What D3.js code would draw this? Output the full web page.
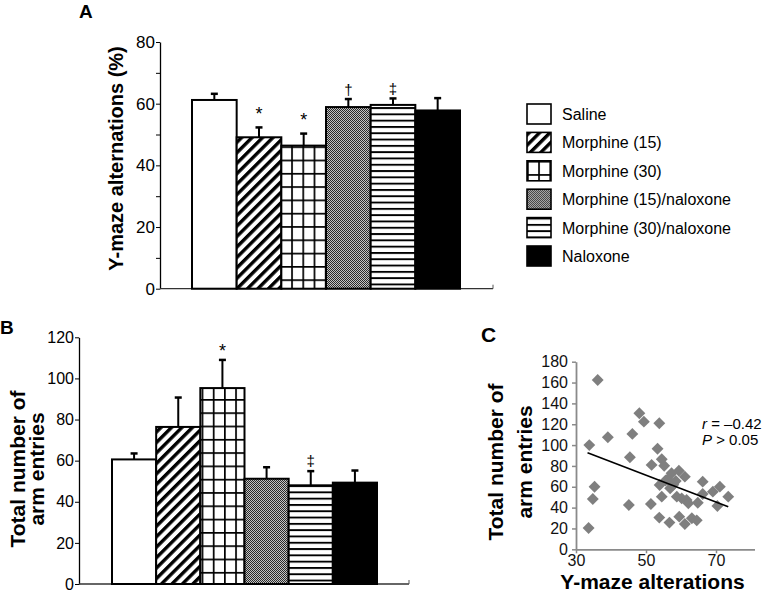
<!DOCTYPE html>
<html>
<head>
<meta charset="utf-8">
<script src="https://cdn.jsdelivr.net/npm/d3@7"></script>
<style>
  body { margin: 0; background: #fff; }
  svg { font-family: "Liberation Sans", Arial, sans-serif; }
</style>
</head>
<body>
<div id="vis"></div>
<script>
// groups (same order in A, B and legend)
var groups = ["Saline", "Morphine (15)", "Morphine (30)", "Morphine (15)/naloxone", "Morphine (30)/naloxone", "Naloxone"];

// A: Y-maze alternations (%)
var altMean = [61.2, 49.1, 46.4, 58.9, 59.6, 57.8];
var altErr = [2.0, 3.2, 3.9, 2.6, 2.1, 4.0];
var altMarks = ["", "*", "*", "\u2020", "\u2021", ""];
var altTicks = [0, 10, 20, 30, 40, 50, 60, 70, 80];

// B: total number of arm entries
var entMean = [60.6, 76.4, 95.3, 51.2, 48.0, 49.3];
var entErr = [2.9, 14.3, 13.7, 5.6, 6.9, 5.9];
var entMarks = ["", "", "*", "", "\u2021", ""];
var entTicks = [0, 20, 40, 60, 80, 100, 120];

// C: scatter, Y-maze alterations vs arm entries
var scatX = [36.2, 33.8, 39.1, 35.3, 34.8, 33.6, 46.1, 45.4, 45.1, 48.1, 49.4, 53.8, 53.3, 51.6, 51.4,
             54.5, 55.2, 53.9, 54.5, 53.8, 56.7, 57.3, 56.2, 58.5, 56.9, 58.8, 59.4, 61.1, 60.2, 61.6,
             62.1, 59.5, 61.1, 63.1, 64.5, 64.8, 66.2, 66.2, 69.1, 71.1, 70.4, 73.5, 57.8, 55.6];
var scatY = [162.5, 100, 107.5, 60, 48.3, 20.4, 110.7, 88.3, 42.5, 130.5, 122.5, 121, 96.5, 81, 43.5,
             86.4, 80.2, 61.7, 50.5, 30.4, 25.6, 73, 67.2, 65.5, 58.5, 50.5, 75.4, 69.7, 48.9, 47.3,
             44.1, 31.3, 24.3, 29.8, 27.8, 44.7, 64.9, 53.1, 55.3, 60.1, 41.6, 50.5, 62, 66];
var fitX = [33.3, 73.5];
var fitY = [92.7, 40.9];
var cxTicks = [30, 50, 70];
var cyTicks = [0, 20, 40, 60, 80, 100, 120, 140, 160, 180];

var barFills = ["#fff", "url(#diag)", "url(#grid)", "url(#dots)", "url(#hstripe)", "#000"];

var svg = d3.select('#vis')
    .append('svg')
    .attr('width', 768)
    .attr('height', 591);

// fill patterns
var defs = svg.append('defs');

var diag = defs.append('pattern')
    .attr('id', 'diag')
    .attr('patternUnits', 'userSpaceOnUse')
    .attr('width', 7.4).attr('height', 7.4)
    .attr('patternTransform', 'rotate(45)');
diag.append('rect').attr('width', 7.4).attr('height', 7.4).attr('fill', '#fff');
diag.append('rect').attr('width', 3.4).attr('height', 7.4).attr('fill', '#000');

var grid = defs.append('pattern')
    .attr('id', 'grid')
    .attr('patternUnits', 'userSpaceOnUse')
    .attr('width', 11.2).attr('height', 13.3);
grid.append('rect').attr('width', 11.2).attr('height', 13.3).attr('fill', '#fff');
grid.append('rect').attr('width', 1.7).attr('height', 13.3).attr('fill', '#000');
grid.append('rect').attr('width', 11.2).attr('height', 1.7).attr('fill', '#000');

var dots = defs.append('pattern')
    .attr('id', 'dots')
    .attr('patternUnits', 'userSpaceOnUse')
    .attr('width', 2).attr('height', 2);
dots.append('rect').attr('width', 2).attr('height', 2).attr('fill', '#c4c4c4');
dots.append('rect').attr('width', 1).attr('height', 1).attr('fill', '#2a2a2a');
dots.append('rect').attr('x', 1).attr('y', 1).attr('width', 1).attr('height', 1).attr('fill', '#2a2a2a');

var hstripe = defs.append('pattern')
    .attr('id', 'hstripe')
    .attr('patternUnits', 'userSpaceOnUse')
    .attr('width', 6).attr('height', 6.3);
hstripe.append('rect').attr('width', 6).attr('height', 6.3).attr('fill', '#fff');
hstripe.append('rect').attr('width', 6).attr('height', 1.9).attr('fill', '#000');

function drawBars(g, x_scale, y_scale, means, errs, marks, starGap, dagGap, markSize) {
    var idx = d3.range(groups.length);

    g.selectAll('.bar')
        .data(idx)
        .enter()
        .append('rect')
        .attr('class', 'bar')
        .attr('x', function(i) { return x_scale(groups[i]); })
        .attr('width', x_scale.bandwidth())
        .attr('y', function(i) { return y_scale(means[i]); })
        .attr('height', function(i) { return y_scale(0) - y_scale(means[i]); })
        .attr('fill', function(i) { return barFills[i]; })
        .attr('stroke', '#000')
        .attr('stroke-width', 2);

    var cx = function(i) { return x_scale(groups[i]) + x_scale.bandwidth() / 2; };

    g.selectAll('.err')
        .data(idx)
        .enter()
        .append('line')
        .attr('class', 'err')
        .attr('x1', cx).attr('x2', cx)
        .attr('y1', function(i) { return y_scale(means[i]); })
        .attr('y2', function(i) { return y_scale(means[i] + errs[i]); })
        .attr('stroke', '#000')
        .attr('stroke-width', 2);

    g.selectAll('.cap')
        .data(idx)
        .enter()
        .append('line')
        .attr('class', 'cap')
        .attr('x1', function(i) { return cx(i) - 3.5; })
        .attr('x2', function(i) { return cx(i) + 3.5; })
        .attr('y1', function(i) { return y_scale(means[i] + errs[i]); })
        .attr('y2', function(i) { return y_scale(means[i] + errs[i]); })
        .attr('stroke', '#000')
        .attr('stroke-width', 2.5);

    g.selectAll('.mark')
        .data(idx.filter(function(i) { return marks[i] !== ""; }))
        .enter()
        .append('text')
        .attr('class', 'mark')
        .attr('x', cx)
        .attr('y', function(i) {
            var gap = marks[i] === "*" ? starGap : dagGap;
            return y_scale(means[i] + errs[i]) - gap;
        })
        .attr('text-anchor', 'middle')
        .attr('fill', '#000')
        .style('font-size', function(i) { return (marks[i] === "*" ? markSize : markSize - 3) + 'px'; })
        .text(function(i) { return marks[i]; });
}

// ---------- panel A ----------
var gA = svg.append('g');
var xA = d3.scaleBand().domain(groups).range([192, 460]).padding(0);
var yA = d3.scaleLinear().domain([0, 80]).range([288.7, 42]);

gA.append('g')
    .attr('transform', 'translate(160,0)')
    .call(d3.axisLeft(yA)
        .tickValues(altTicks)
        .tickFormat(function(d) { return d % 20 === 0 ? d : ""; })
        .tickSize(4).tickSizeOuter(0).tickPadding(1))
    .call(function(a) {
        a.selectAll('text').style('font-size', '17px').attr('fill', '#000');
        a.select('.domain').attr('stroke-width', 1.3);
    });

gA.append('line')
    .attr('x1', 160).attr('x2', 493)
    .attr('y1', yA(0)).attr('y2', yA(0))
    .attr('stroke', '#333').attr('stroke-width', 1.3);
gA.append('line')
    .attr('x1', 493).attr('x2', 493)
    .attr('y1', yA(0)).attr('y2', yA(0) - 4)
    .attr('stroke', '#555').attr('stroke-width', 1);

drawBars(gA, xA, yA, altMean, altErr, altMarks, 7.5, 4.5, 18);

gA.append('text')
    .attr('transform', 'translate(123,158.5) rotate(-90)')
    .attr('text-anchor', 'middle')
    .style('font-size', '20px').style('font-weight', 'bold')
    .text('Y-maze alternations (%)');

gA.append('text')
    .attr('x', 79).attr('y', 18)
    .style('font-size', '19px').style('font-weight', 'bold')
    .text('A');

// legend
var legend = svg.append('g').attr('transform', 'translate(527,104)');
var rows = legend.selectAll('.row')
    .data(groups)
    .enter()
    .append('g')
    .attr('class', 'row')
    .attr('transform', function(d, i) { return 'translate(0,' + (i * 28.4) + ')'; });
rows.append('rect')
    .attr('width', 24).attr('height', 20)
    .attr('fill', function(d, i) { return barFills[i]; })
    .attr('stroke', '#000').attr('stroke-width', 1.6);
rows.append('text')
    .attr('x', 35).attr('y', 16)
    .style('font-size', '16px')
    .text(function(d) { return d; });

// ---------- panel B ----------
var gB = svg.append('g');
var xB = d3.scaleBand().domain(groups).range([112, 377]).padding(0);
var yB = d3.scaleLinear().domain([0, 120]).range([584, 337.3]);

gB.append('g')
    .attr('transform', 'translate(79,0)')
    .call(d3.axisLeft(yB)
        .tickValues(entTicks)
        .tickSize(4).tickSizeOuter(0).tickPadding(1))
    .call(function(a) {
        a.selectAll('text').style('font-size', '16px').attr('fill', '#000');
        a.select('.domain').attr('stroke-width', 1.3);
    });

gB.append('line')
    .attr('x1', 79).attr('x2', 409)
    .attr('y1', yB(0)).attr('y2', yB(0))
    .attr('stroke', '#333').attr('stroke-width', 1.3);
gB.append('line')
    .attr('x1', 409).attr('x2', 409)
    .attr('y1', yB(0)).attr('y2', yB(0) - 4)
    .attr('stroke', '#555').attr('stroke-width', 1);

drawBars(gB, xB, yB, entMean, entErr, entMarks, 3, 5, 18);

var labB = gB.append('text')
    .attr('transform', 'translate(25,469) rotate(-90)')
    .attr('text-anchor', 'middle')
    .style('font-size', '21px').style('font-weight', 'bold');
labB.append('tspan').attr('x', 0).attr('y', 0).text('Total number of');
labB.append('tspan').attr('x', 0).attr('y', 19).text('arm entries');

gB.append('text')
    .attr('x', 0).attr('y', 334)
    .style('font-size', '19px').style('font-weight', 'bold')
    .text('B');

// ---------- panel C ----------
var gC = svg.append('g');
var xC = d3.scaleLinear().domain([30, 81]).range([576, 754.5]);
var yC = d3.scaleLinear().domain([0, 180]).range([549.3, 361.7]);
var grey = '#8a8a8a';

gC.append('g')
    .attr('transform', 'translate(0,' + yC(0) + ')')
    .call(d3.axisBottom(xC).tickValues(cxTicks).tickSize(4).tickSizeOuter(0).tickPadding(1))
    .call(function(a) {
        a.selectAll('text').style('font-size', '16px').attr('fill', '#111');
        a.selectAll('line').attr('stroke', grey).attr('stroke-width', 1.5);
        a.select('.domain').attr('stroke', grey).attr('stroke-width', 1.8);
    });

gC.append('g')
    .attr('transform', 'translate(576,0)')
    .call(d3.axisLeft(yC).tickValues(cyTicks).tickSize(4).tickSizeOuter(0).tickPadding(4))
    .call(function(a) {
        a.selectAll('text').style('font-size', '16px').attr('fill', '#111');
        a.selectAll('line').attr('stroke', grey).attr('stroke-width', 1.5);
        a.select('.domain').attr('stroke', grey).attr('stroke-width', 1.8);
    });

gC.selectAll('.pt')
    .data(d3.range(scatX.length))
    .enter()
    .append('path')
    .attr('class', 'pt')
    .attr('d', d3.symbol().type(d3.symbolDiamond2).size(90))
    .attr('transform', function(i) { return 'translate(' + xC(scatX[i]) + ',' + yC(scatY[i]) + ')'; })
    .attr('fill', '#7f7f7f');

gC.append('line')
    .attr('x1', xC(fitX[0])).attr('y1', yC(fitY[0]))
    .attr('x2', xC(fitX[1])).attr('y2', yC(fitY[1]))
    .attr('stroke', '#000').attr('stroke-width', 1.6);

var stat1 = gC.append('text').attr('x', 702).attr('y', 429).style('font-size', '15px');
stat1.append('tspan').style('font-style', 'italic').text('r');
stat1.append('tspan').text(' = \u20130.42');
var stat2 = gC.append('text').attr('x', 702).attr('y', 445).style('font-size', '15px');
stat2.append('tspan').style('font-style', 'italic').text('P');
stat2.append('tspan').text(' > 0.05');

var labC = gC.append('text')
    .attr('transform', 'translate(503,462) rotate(-90)')
    .attr('text-anchor', 'middle')
    .style('font-size', '21px').style('font-weight', 'bold');
labC.append('tspan').attr('x', 0).attr('y', 0).text('Total number of');
labC.append('tspan').attr('x', 0).attr('y', 29).text('arm entries');

gC.append('text')
    .attr('x', 652.5).attr('y', 589)
    .attr('text-anchor', 'middle')
    .style('font-size', '21px').style('font-weight', 'bold')
    .text('Y-maze alterations');

gC.append('text')
    .attr('x', 481).attr('y', 342)
    .style('font-size', '21px').style('font-weight', 'bold')
    .text('C');
</script>
</body>
</html>
